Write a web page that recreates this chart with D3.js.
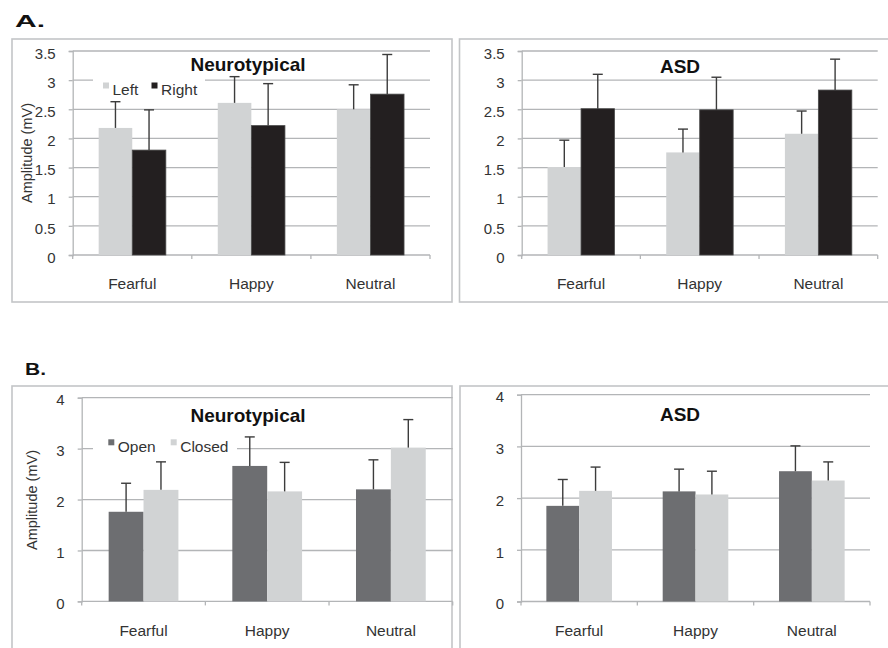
<!DOCTYPE html>
<html>
<head>
<meta charset="utf-8">
<script src="https://cdn.jsdelivr.net/npm/d3@7/dist/d3.min.js"></script>
<style>
  html, body { margin: 0; padding: 0; background: #fff; }
  svg { display: block; font-family: "Liberation Sans", Arial, Helvetica, sans-serif; }
</style>
</head>
<body>
<svg id="chart" width="888" height="648"></svg>
<script>
// Emotional faces – evoked amplitude (mV), means and SD (upper whisker only)
const categories = ["Fearful", "Happy", "Neutral"];

// A. hemisphere comparison
const ticksA = [0, 0.5, 1, 1.5, 2, 2.5, 3, 3.5];
const ntLeft = [2.18, 2.61, 2.50];
const ntLeftSD = [0.45, 0.45, 0.42];
const ntRight = [1.80, 2.22, 2.76];
const ntRightSD = [0.69, 0.72, 0.68];
const asdLeft = [1.51, 1.76, 2.08];
const asdLeftSD = [0.46, 0.40, 0.39];
const asdRight = [2.51, 2.49, 2.83];
const asdRightSD = [0.59, 0.56, 0.53];

// B. eyes open vs closed
const ticksB = [0, 1, 2, 3, 4];
const ntOpen = [1.76, 2.66, 2.20];
const ntOpenSD = [0.56, 0.57, 0.58];
const ntClosed = [2.19, 2.16, 3.02];
const ntClosedSD = [0.55, 0.57, 0.55];
const asdOpen = [1.85, 2.13, 2.52];
const asdOpenSD = [0.51, 0.43, 0.49];
const asdClosed = [2.14, 2.07, 2.34];
const asdClosedSD = [0.46, 0.45, 0.36];

const seriesNamesA = ["Left", "Right"];
const seriesNamesB = ["Open", "Closed"];

const C_LIGHT = "#d1d3d4", C_BLACK = "#231f20", C_DARK = "#6d6e71";
const GRID = "#b3b5b7", FRAME = "#c3c5c7", TEXT = "#333333";

const svg = d3.select("#chart");

function panel(cfg) {
  const g = svg.append("g");
  // outer frame
  g.append("rect").attr("x", cfg.frame[0]).attr("y", cfg.frame[1])
    .attr("width", cfg.frame[2]).attr("height", cfg.frame[3])
    .attr("fill", "none").attr("stroke", FRAME).attr("stroke-width", 1.6);

  const x = d3.scaleBand().domain(categories).range([cfg.x0, cfg.x1]).padding(0);
  const y = d3.scaleLinear().domain([0, cfg.ticks[cfg.ticks.length - 1]]).range([cfg.yBottom, cfg.yTop]);
  const inner = d3.scaleBand().domain([0, 1])
    .range([x.bandwidth() * 0.218, x.bandwidth() * 0.782]).padding(0);

  // gridlines
  g.append("g").selectAll("line").data(cfg.ticks.filter(t => t > 0)).join("line")
    .attr("x1", cfg.x0).attr("x2", cfg.x1)
    .attr("y1", d => y(d)).attr("y2", d => y(d))
    .attr("stroke", GRID).attr("stroke-width", 1.3);

  // y axis
  const yAxis = d3.axisLeft(y).tickValues(cfg.ticks).tickSize(4).tickPadding(13)
    .tickFormat(d3.format("~g"));
  const ya = g.append("g").attr("transform", `translate(${cfg.x0},0)`).call(yAxis);
  ya.select(".domain").attr("stroke", GRID).attr("stroke-width", 1.3);
  ya.selectAll(".tick line").attr("stroke", GRID).attr("stroke-width", 1.3);
  ya.selectAll(".tick text").attr("fill", TEXT).attr("font-size", 15)
    .attr("font-family", "Liberation Sans, Arial, sans-serif").attr("dy", "0.48em");

  // x axis
  const xa = g.append("g").attr("transform", `translate(0,${cfg.yBottom})`);
  xa.append("line").attr("x1", cfg.x0).attr("x2", cfg.x1)
    .attr("stroke", GRID).attr("stroke-width", 1.3);
  xa.selectAll("line.tk").data([...categories.map(c => x(c)), cfg.x1]).join("line")
    .attr("class", "tk").attr("x1", d => d).attr("x2", d => d)
    .attr("y1", 0).attr("y2", 4).attr("stroke", GRID).attr("stroke-width", 1.3);
  xa.selectAll("text").data(categories).join("text")
    .attr("x", d => x(d) + x.bandwidth() / 2).attr("y", cfg.catDy)
    .attr("text-anchor", "middle").attr("font-size", 15.5).attr("fill", TEXT)
    .text(d => d);

  // y-axis title
  if (cfg.yLabel) {
    g.append("text")
      .attr("transform", `translate(${cfg.yLabel[0]},${cfg.yLabel[1]}) rotate(-90)`)
      .attr("text-anchor", "middle").attr("dy", "0.35em")
      .attr("font-size", 14.5).attr("fill", TEXT).text("Amplitude (mV)");
  }

  // legend (white box interrupts the gridline behind it)
  if (cfg.legend) {
    const L = cfg.legend;
    g.append("rect").attr("x", L.box[0]).attr("y", L.box[1])
      .attr("width", L.box[2]).attr("height", L.box[3]).attr("fill", "#fff");
    L.items.forEach((it, i) => {
      g.append("rect").attr("x", it.x).attr("y", L.sqY).attr("width", 6).attr("height", 6)
        .attr("fill", cfg.colors[i]);
      g.append("text").attr("x", it.x + 9.5).attr("y", L.base)
        .attr("font-size", 15.5).attr("fill", TEXT).text(cfg.names[i]);
    });
  }

  // bars
  const rows = categories.map((c, ci) => cfg.series.map((s, si) => ({
    cat: c, si, v: s.v[ci], sd: s.sd[ci]
  })));
  const flat = rows.flat();
  const bw = inner.bandwidth();

  g.append("g").selectAll("rect").data(flat).join("rect")
    .attr("x", d => x(d.cat) + inner(d.si))
    .attr("y", d => y(d.v))
    .attr("width", bw)
    .attr("height", d => y(0) - y(d.v))
    .attr("fill", d => cfg.colors[d.si])
    .attr("stroke", d => cfg.colors[d.si] === C_BLACK ? "#4a4a4a" : "none")
    .attr("stroke-width", 0.8);

  // upper error whiskers
  const eg = g.append("g").attr("stroke", "#3c3c3c").attr("stroke-width", 1.4);
  flat.forEach(d => {
    const cx = x(d.cat) + inner(d.si) + bw / 2;
    eg.append("line").attr("x1", cx).attr("x2", cx)
      .attr("y1", y(d.v)).attr("y2", y(d.v + d.sd));
    eg.append("line").attr("x1", cx - 5).attr("x2", cx + 5)
      .attr("y1", y(d.v + d.sd)).attr("y2", y(d.v + d.sd));
  });

  // panel title
  g.append("text").attr("x", cfg.title[0]).attr("y", cfg.title[1])
    .attr("text-anchor", "middle").attr("font-weight", "bold")
    .attr("font-size", 19).attr("fill", "#111").text(cfg.title[2]);
}

// A. Neurotypical
panel({
  frame: [12, 39, 440, 263], x0: 72.7, x1: 430, yTop: 51, yBottom: 255,
  ticks: ticksA, catDy: 33.5, yLabel: [27, 153],
  names: seriesNamesA, colors: [C_LIGHT, C_BLACK],
  series: [{ v: ntLeft, sd: ntLeftSD }, { v: ntRight, sd: ntRightSD }],
  title: [248, 71, "Neurotypical"],
  legend: { box: [93, 75, 112, 22], sqY: 82.5, base: 94.5,
            items: [{ x: 103 }, { x: 151.5 }] }
});
// A. ASD
panel({
  frame: [459.5, 39, 440, 263], x0: 521.7, x1: 877.7, yTop: 51, yBottom: 255,
  ticks: ticksA, catDy: 33.5, yLabel: null,
  names: seriesNamesA, colors: [C_LIGHT, C_BLACK],
  series: [{ v: asdLeft, sd: asdLeftSD }, { v: asdRight, sd: asdRightSD }],
  title: [680, 73, "ASD"], legend: null
});
// B. Neurotypical
panel({
  frame: [12, 386, 440, 280], x0: 81.7, x1: 452.7, yTop: 397.7, yBottom: 601.4,
  ticks: ticksB, catDy: 34.5, yLabel: [31.5, 500],
  names: seriesNamesB, colors: [C_DARK, C_LIGHT],
  series: [{ v: ntOpen, sd: ntOpenSD }, { v: ntClosed, sd: ntClosedSD }],
  title: [248, 422, "Neurotypical"],
  legend: { box: [93, 436, 144, 22], sqY: 439.3, base: 451.7,
            items: [{ x: 108.3 }, { x: 170.7 }] }
});
// B. ASD
panel({
  frame: [460, 386, 440, 280], x0: 521, x1: 870, yTop: 394.7, yBottom: 601.5,
  ticks: ticksB, catDy: 34.5, yLabel: null,
  names: seriesNamesB, colors: [C_DARK, C_LIGHT],
  series: [{ v: asdOpen, sd: asdOpenSD }, { v: asdClosed, sd: asdClosedSD }],
  title: [680, 421, "ASD"], legend: null
});

// section letters
svg.append("text").attr("x", 15).attr("y", 26.5).attr("font-weight", "bold")
  .attr("font-size", 17).attr("fill", "#111")
  .attr("textLength", 30).attr("lengthAdjust", "spacingAndGlyphs").text("A.");
svg.append("text").attr("x", 25).attr("y", 374.5).attr("font-weight", "bold")
  .attr("font-size", 16).attr("fill", "#111")
  .attr("textLength", 21).attr("lengthAdjust", "spacingAndGlyphs").text("B.");
</script>
</body>
</html>
